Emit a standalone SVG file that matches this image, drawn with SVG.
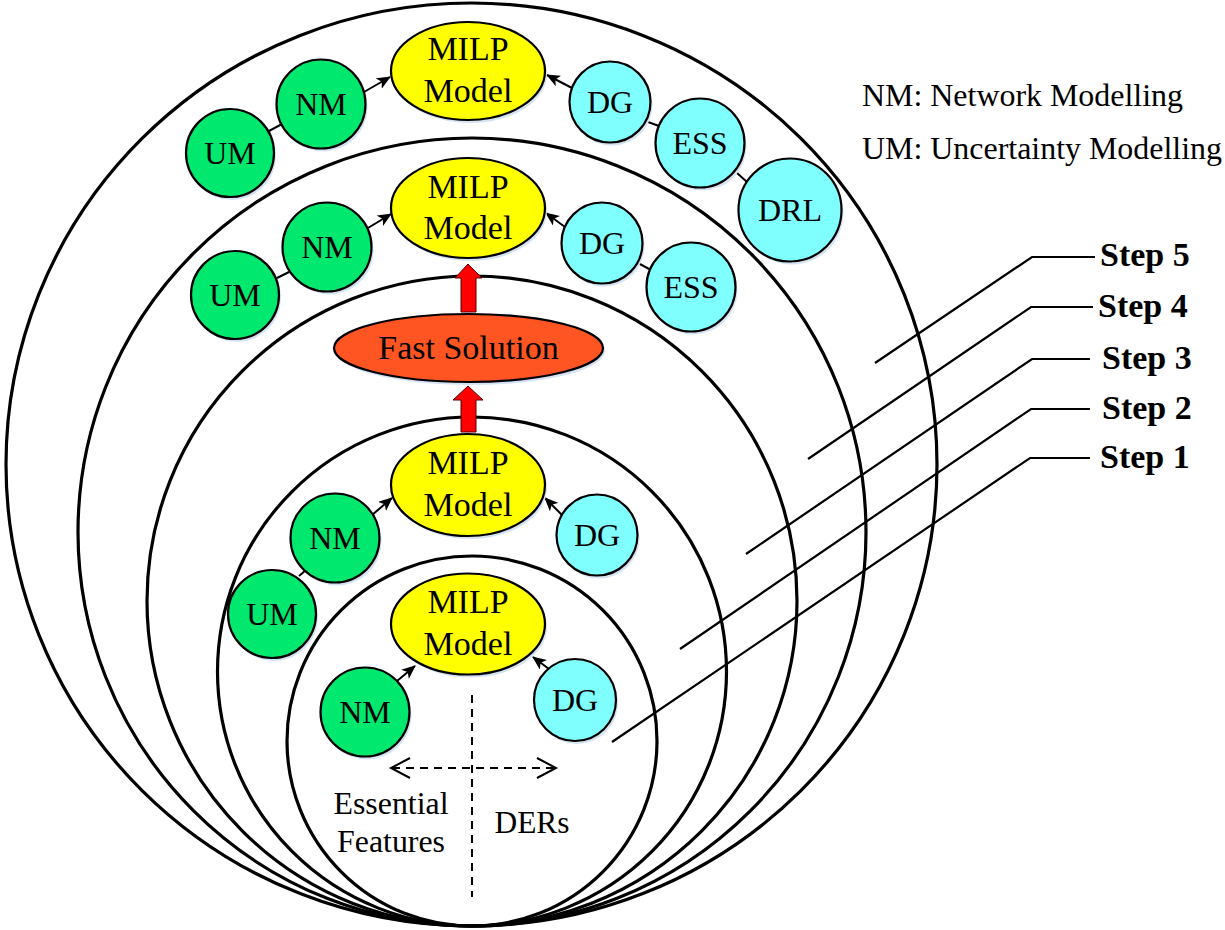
<svg xmlns="http://www.w3.org/2000/svg" width="1225" height="930" viewBox="0 0 1225 930">
<style>
.ring{fill:none;stroke:#000;stroke-width:3.2}
.lead{fill:none;stroke:#000;stroke-width:2.2}
.sh{fill:#d6e3f4}
.g{fill:#00e86e;stroke:#000;stroke-width:2.2}
.c{fill:#80ffff;stroke:#000;stroke-width:2.2}
.y{fill:#ffff00;stroke:#000;stroke-width:2.2}
.o{fill:#ff5522;stroke:#000;stroke-width:2.2}
.t{font-family:"Liberation Serif","Times New Roman",serif;font-size:32px;fill:#000;text-anchor:middle}
.m{font-family:"Liberation Serif","Times New Roman",serif;font-size:34px;fill:#000;text-anchor:middle}
.lg{font-family:"Liberation Serif","Times New Roman",serif;font-size:31px;fill:#000}
.st{font-family:"Liberation Serif","Times New Roman",serif;font-size:34px;font-weight:bold;fill:#000}
.ln{stroke:#000;stroke-width:2;fill:none}
.ar{stroke:#000;stroke-width:2;fill:none;marker-end:url(#ah)}
.red{fill:#ff0000;stroke:#550000;stroke-width:1}
.dash{stroke:#000;stroke-width:2;fill:none;stroke-dasharray:8 6}
</style>
<defs>
<marker id="ah" viewBox="0 0 14 12" refX="13" refY="6" markerWidth="14" markerHeight="12" markerUnits="userSpaceOnUse" orient="auto">
<path d="M0,0 L14,6 L0,12 L3.5,6 Z" fill="#000"/>
</marker>
</defs>
<rect width="1225" height="930" fill="#fff"/>
<g id="rings">
<ellipse class="ring" cx="471.5" cy="464.5" rx="465.5" ry="461.5"/>
<circle class="ring" cx="472" cy="532" r="394"/>
<circle class="ring" cx="472" cy="601" r="325"/>
<circle class="ring" cx="472" cy="671.5" r="254.5"/>
<circle class="ring" cx="472" cy="741" r="185"/>
</g>
<g id="leaders">
<polyline class="lead" points="1095,257 1032,257 875,363"/>
<polyline class="lead" points="1093,307 1031,307 808,459"/>
<polyline class="lead" points="1090,359 1032,359 746,554"/>
<polyline class="lead" points="1090,409 1031,409 680,649"/>
<polyline class="lead" points="1090,458 1030,458 612,742"/>
</g>
<g id="connectors">
<line class="ln" x1="269" y1="131" x2="282" y2="124"/>
<line class="ln" x1="648" y1="122" x2="659" y2="126"/>
<line class="ln" x1="737" y1="173" x2="747" y2="182"/>
<line class="ar" x1="364" y1="92" x2="390" y2="77"/>
<line class="ar" x1="572" y1="88" x2="547" y2="75"/>
<line class="ln" x1="277" y1="278" x2="289" y2="272"/>
<line class="ln" x1="638" y1="263" x2="651" y2="270"/>
<line class="ar" x1="368" y1="228" x2="391" y2="214"/>
<line class="ar" x1="565" y1="227" x2="546" y2="213"/>
<line class="ln" x1="299" y1="576" x2="306" y2="570"/>
<line class="ar" x1="372" y1="515" x2="392" y2="498"/>
<line class="ar" x1="562" y1="515" x2="545" y2="498"/>
<line class="ar" x1="397" y1="681" x2="415" y2="666"/>
<line class="ar" x1="549" y1="669" x2="533" y2="657"/>
<path class="red" d="M461,312 L461,278 L455,278 L468,264 L482,278 L476,278 L476,312 Z"/>
<path class="red" d="M461,432 L461,400 L453,400 L468,386 L483,400 L476,400 L476,432 Z"/>
<line class="dash" x1="472" y1="695" x2="472" y2="897"/>
<line class="dash" x1="392" y1="768" x2="555" y2="768"/>
<polyline class="ln" points="410,758 391,768 410,778"/>
<polyline class="ln" points="537,758 556,768 537,778"/>
</g>
<g id="top-milp"><ellipse class="sh" cx="470" cy="74" rx="77" ry="49"/><ellipse class="y" cx="468" cy="71" rx="77" ry="49"/><text class="m" x="468" y="60">MILP</text><text class="m" x="468" y="102">Model</text></g>
<g id="top-nm"><circle class="sh" cx="323" cy="107" r="44.5"/><circle class="g" cx="321" cy="104" r="44.5"/><text class="t" x="321" y="115">NM</text></g>
<g id="top-um"><circle class="sh" cx="232" cy="156" r="44"/><circle class="g" cx="230" cy="153" r="44"/><text class="t" x="230" y="164">UM</text></g>
<g id="top-dg"><circle class="sh" cx="612" cy="105" r="40.5"/><circle class="c" cx="610" cy="102" r="40.5"/><text class="t" x="610" y="113">DG</text></g>
<g id="top-ess"><circle class="sh" cx="702" cy="146" r="44.5"/><circle class="c" cx="700" cy="143" r="44.5"/><text class="t" x="700" y="154">ESS</text></g>
<g id="top-drl"><circle class="sh" cx="792" cy="213" r="51.5"/><circle class="c" cx="790" cy="210" r="51.5"/><text class="t" x="790" y="221">DRL</text></g>
<g id="s4-milp"><ellipse class="sh" cx="470" cy="211" rx="77" ry="50"/><ellipse class="y" cx="468" cy="208" rx="77" ry="50"/><text class="m" x="468" y="198">MILP</text><text class="m" x="468" y="239">Model</text></g>
<g id="s4-nm"><circle class="sh" cx="329" cy="250" r="44.5"/><circle class="g" cx="327" cy="247" r="44.5"/><text class="t" x="327" y="258">NM</text></g>
<g id="s4-um"><circle class="sh" cx="237" cy="298" r="44"/><circle class="g" cx="235" cy="295" r="44"/><text class="t" x="235" y="306">UM</text></g>
<g id="s4-dg"><circle class="sh" cx="604" cy="246" r="40.5"/><circle class="c" cx="602" cy="243" r="40.5"/><text class="t" x="602" y="254">DG</text></g>
<g id="s4-ess"><circle class="sh" cx="693" cy="290" r="44.5"/><circle class="c" cx="691" cy="287" r="44.5"/><text class="t" x="691" y="298">ESS</text></g>
<g id="fast"><ellipse class="sh" cx="470.5" cy="351" rx="134.5" ry="34"/><ellipse class="o" cx="468.5" cy="348" rx="134.5" ry="34"/><text class="m" x="468.5" y="359">Fast Solution</text></g>
<g id="s2-milp"><ellipse class="sh" cx="470" cy="488" rx="77" ry="51"/><ellipse class="y" cx="468" cy="485" rx="77" ry="51"/><text class="m" x="468" y="474">MILP</text><text class="m" x="468" y="516">Model</text></g>
<g id="s2-nm"><circle class="sh" cx="337" cy="541" r="44.5"/><circle class="g" cx="335" cy="538" r="44.5"/><text class="t" x="335" y="549">NM</text></g>
<g id="s2-um"><circle class="sh" cx="274" cy="617" r="44"/><circle class="g" cx="272" cy="614" r="44"/><text class="t" x="272" y="625">UM</text></g>
<g id="s2-dg"><circle class="sh" cx="599" cy="538" r="40.5"/><circle class="c" cx="597" cy="535" r="40.5"/><text class="t" x="597" y="546">DG</text></g>
<g id="s1-milp"><ellipse class="sh" cx="470" cy="627" rx="77" ry="50.5"/><ellipse class="y" cx="468" cy="624" rx="77" ry="50.5"/><text class="m" x="468" y="613">MILP</text><text class="m" x="468" y="655">Model</text></g>
<g id="s1-nm"><circle class="sh" cx="367" cy="715" r="44.5"/><circle class="g" cx="365" cy="712" r="44.5"/><text class="t" x="365" y="723">NM</text></g>
<g id="s1-dg"><circle class="sh" cx="577" cy="703" r="41"/><circle class="c" cx="575" cy="700" r="41"/><text class="t" x="575" y="711">DG</text></g>
<g id="labels">
<text class="t" x="391" y="814" textLength="115" lengthAdjust="spacingAndGlyphs">Essential</text>
<text class="t" x="391" y="852" textLength="108" lengthAdjust="spacingAndGlyphs">Features</text>
<text class="t" x="532" y="833" textLength="75" lengthAdjust="spacingAndGlyphs">DERs</text>
<text class="lg" x="862" y="106" textLength="321" lengthAdjust="spacingAndGlyphs">NM: Network Modelling</text>
<text class="lg" x="862" y="159" textLength="360" lengthAdjust="spacingAndGlyphs">UM: Uncertainty Modelling</text>
<text class="st" x="1100" y="266">Step 5</text>
<text class="st" x="1098" y="317">Step 4</text>
<text class="st" x="1102" y="369">Step 3</text>
<text class="st" x="1102" y="419">Step 2</text>
<text class="st" x="1100" y="468">Step 1</text>
</g>
</svg>
